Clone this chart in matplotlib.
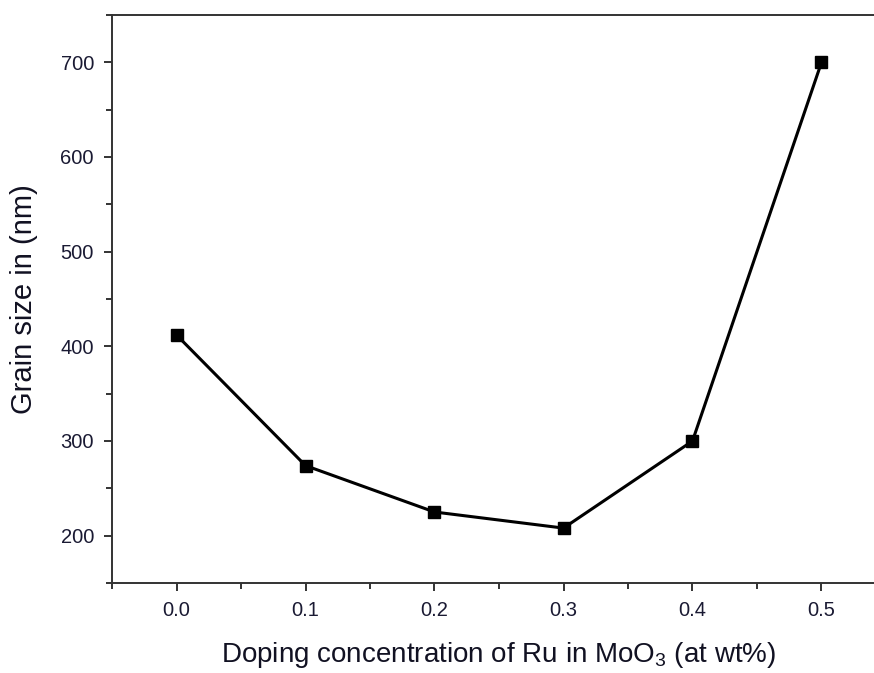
import matplotlib
matplotlib.use("Agg")
import matplotlib.pyplot as plt
from matplotlib.ticker import MultipleLocator

doping = [0.0, 0.1, 0.2, 0.3, 0.4, 0.5]
grain_size = [412, 274, 225, 208, 300, 700]

plt.rcParams['font.family'] = ['Liberation Sans', 'DejaVu Sans']
plt.rcParams['mathtext.fontset'] = 'custom'
plt.rcParams['mathtext.rm'] = 'Liberation Sans'
plt.rcParams['mathtext.it'] = 'Liberation Sans'

fig = plt.figure(figsize=(8.74, 6.73), dpi=100)
# right spine is cut off in the original, so the axes run past the figure edge
ax = fig.add_axes([112/874, 90/673, 774/874, 568/673])

ax.plot(doping, grain_size, '-s', color='black', linewidth=2.2, markersize=8)

ax.set_xlim(-0.05, 0.55)
ax.set_ylim(150, 750)
ax.xaxis.set_major_locator(MultipleLocator(0.1))
ax.xaxis.set_minor_locator(MultipleLocator(0.05))
ax.yaxis.set_major_locator(MultipleLocator(100))
ax.yaxis.set_minor_locator(MultipleLocator(50))
ax.set_yticks([200, 300, 400, 500, 600, 700])
ax.set_xticks([0.0, 0.1, 0.2, 0.3, 0.4, 0.5])
ax.set_xticklabels(["0.0", "0.1", "0.2", "0.3", "0.4", "0.5"])

for s in ax.spines.values():
    s.set_color('#333333')
    s.set_linewidth(1.4)
ax.tick_params(which='major', direction='out', length=6, width=1.4, color='#333333',
               labelsize=14.5, labelcolor='#1a1a33', pad=7)
ax.tick_params(which='minor', direction='out', length=4, width=1.4, color='#333333')

ax.set_xlabel(r"Doping concentration of Ru in MoO$_3$ (at wt%)",
              fontsize=20, color='#111122', labelpad=14)
ax.set_ylabel("Grain size in (nm)", fontsize=21, color='#111122', labelpad=16)

fig.savefig("out.png", dpi=100)
